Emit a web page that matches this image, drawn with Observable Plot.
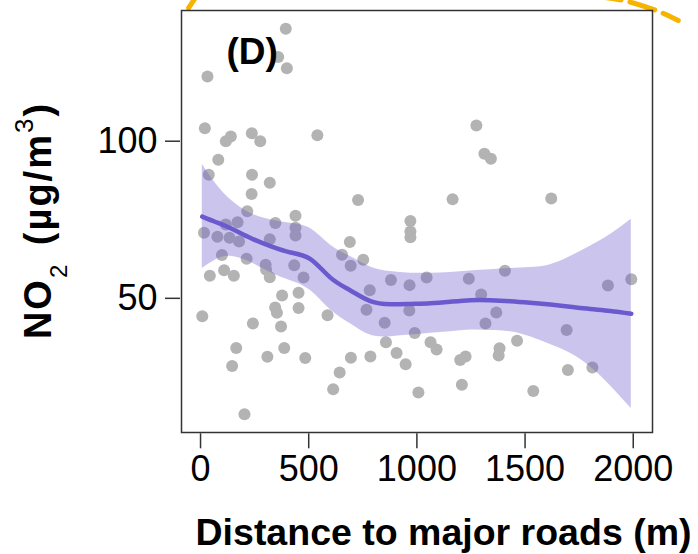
<!DOCTYPE html>
<html>
<head>
<meta charset="utf-8">
<script src="https://cdn.jsdelivr.net/npm/d3@7"></script>
<script src="https://cdn.jsdelivr.net/npm/@observablehq/plot@0.6"></script>
<style>
  html, body { margin: 0; padding: 0; background: white; }
</style>
</head>
<body>
<div id="chart"></div>
<script>
// ---- data ----
const distance = [394, 359, 399, 32, 20, 140, 117, 237, 276, 540,
  1275, 1312, 1342, 82, 38, 238, 320, 236, 728, 1165,
  1621, 216, 439, 970, 970, 970, 346, 171, 117, 16,
  439, 439, 78, 134, 178, 320, 690, 99, 213, 654,
  301, 303, 433, 694, 752, 43, 109, 154, 320, 476,
  880, 966, 1045, 1240, 1407, 1883, 1991, 782, 377, 453,
  1297, 8, 345, 353, 453, 767, 965, 1367, 587, 242,
  851, 1317, 372, 990, 1692, 165, 309, 387, 484, 857,
  906, 1063, 1091, 1463, 1382, 1378, 1200, 1225, 695, 785,
  948, 146, 643, 613, 1007, 1208, 1538, 1698, 1811, 203];
const no2 = [135.8, 126.8, 123.2, 120.6, 104.1, 101.5, 100.0, 102.5, 100.0, 101.9,
  105.0, 96.0, 94.4, 94.1, 89.3, 89.3, 86.8, 83.2, 81.3, 81.5,
  81.8, 77.7, 76.3, 74.6, 71.3, 69.4, 74.0, 74.2, 73.5, 70.9,
  72.5, 70.0, 69.6, 69.3, 68.1, 68.8, 67.9, 63.8, 62.6, 63.9,
  60.7, 59.1, 60.5, 60.4, 62.3, 57.2, 58.9, 57.2, 56.7, 56.6,
  55.8, 54.2, 56.6, 56.2, 58.8, 54.1, 56.1, 52.6, 50.9, 51.8,
  51.2, 44.3, 47.1, 45.4, 46.9, 46.4, 46.1, 45.5, 44.6, 42.0,
  42.2, 42.0, 41.0, 39.0, 39.9, 34.2, 31.4, 34.2, 31.0, 36.0,
  32.6, 36.0, 33.7, 36.5, 34.1, 31.8, 30.4, 31.5, 31.1, 31.5,
  29.0, 28.5, 26.4, 21.1, 20.0, 22.5, 20.5, 27.2, 28.0, 13.1];

// loess smooth with confidence band
const smoothX = [8, 69, 139, 231, 323, 416, 508, 600, 693, 785, 878, 970,
  1062, 1155, 1247, 1339, 1432, 1524, 1617, 1709, 1801, 1894, 1991];
const smoothFit = [76.0, 74.3, 72.3, 69.2, 66.6, 64.6, 62.5, 56.6, 52.5, 49.1, 48.1, 48.2,
  48.4, 48.9, 49.4, 49.4, 49.1, 48.6, 48.0, 47.3, 46.6, 46.0, 45.1];
const smoothUpper = [92.7, 86.6, 81.4, 77.1, 75.0, 73.9, 72.2, 67.0, 63.3, 60.0, 58.5, 58.0,
  58.0, 58.2, 58.7, 59.1, 59.5, 59.8, 60.7, 63.3, 66.6, 70.3, 75.2];
const smoothLower = [59.5, 62.2, 63.4, 61.5, 58.2, 55.6, 52.5, 46.4, 41.9, 38.3, 37.8, 38.3,
  38.9, 39.4, 39.9, 39.8, 39.4, 37.8, 35.3, 32.5, 28.2, 22.2, 14.9];

// decorative orange dashed highlight (partly visible at the top)
const arcLeftX = [-55, -18];
const arcLeftY = [142.4, 146.3];
const arcRightX = [1825, 1954, 2078, 2148, 2208];
const arcRightY = [146.1, 144.8, 142.3, 140.4, 138.4];

const xTicks = [0, 500, 1000, 1500, 2000];
const yTicks = [50, 100];
const panelLabel = "(D)";
const xTitle = "Distance to major roads (m)";
const yTitle = "NO2 (µg/m3)";

// ---- build tables ----
const points = distance.map((d, i) => ({x: d, y: no2[i]}));
const smooth = smoothX.map((d, i) => ({x: d, fit: smoothFit[i], lo: smoothLower[i], hi: smoothUpper[i]}));
const arcs = [
  ...arcLeftX.map((d, i) => ({x: d, y: arcLeftY[i], z: "L"})),
  ...arcRightX.map((d, i) => ({x: d, y: arcRightY[i], z: "R"}))
];

const purple = "#6a5acd";

const chart = Plot.plot({
  width: 698,
  height: 554,
  marginLeft: 181,
  marginRight: 46,
  marginTop: 10,
  marginBottom: 122,
  style: {fontFamily: "'Liberation Sans', Arial, sans-serif", fontSize: "36px", background: "white", overflow: "visible"},
  x: {domain: [-88, 2089]},
  y: {domain: [7.3, 141.6]},
  marks: [
    Plot.line(arcs, {x: "x", y: "y", z: "z", stroke: "#f6b400", strokeWidth: 5, strokeDasharray: "26,9", curve: "natural"}),
    Plot.dot(points, {x: "x", y: "y", r: 6, fill: "#b3b3b3", stroke: "none"}),
    Plot.areaY(smooth, {x: "x", y1: "lo", y2: "hi", fill: purple, fillOpacity: 0.35, curve: "natural"}),
    Plot.line(smooth, {x: "x", y: "fit", stroke: purple, strokeWidth: 4.5, curve: "natural"}),
    Plot.text([panelLabel], {text: d => d, frameAnchor: "top-left", dx: 45, dy: 27, lineAnchor: "top", textAnchor: "start", fontSize: 37, fontWeight: "bold", fill: "black"}),
    Plot.frame({stroke: "#333", strokeWidth: 1.5}),
    Plot.axisX(xTicks, {tickSize: 15, tickPadding: 7, dy: 1.3, fontSize: 36, label: null, stroke: "#333", strokeWidth: 1.5, tickFormat: d => String(d), fill: "black"}),
    Plot.axisY(yTicks, {tickSize: 15, tickPadding: 8, dx: -1, fontSize: 36, label: null, stroke: "#333", strokeWidth: 1.5, tickFormat: d => String(d), fill: "black"}),
    Plot.text([xTitle], {text: d => d, frameAnchor: "bottom", dx: 26.5, dy: 112, lineAnchor: "bottom", textAnchor: "middle", fontSize: 37.5, fontWeight: "bold", fill: "black"}),
    Plot.text([yTitle], {text: d => d, frameAnchor: "left", dx: -131, dy: -1, rotate: -90, lineAnchor: "bottom", textAnchor: "middle", fontSize: 38, fontWeight: "bold", fill: "black"})
  ]
});

// rich text for the y title: subscript 2 and superscript 3
d3.select(chart).selectAll("text").filter(function() { return this.textContent === yTitle; }).each(function() {
  const t = d3.select(this).style("letter-spacing", "2px");
  t.text(null);
  t.append("tspan").text("NO");
  t.append("tspan").attr("font-weight", "normal").attr("font-size", 24).attr("dy", 16).text("2");
  t.append("tspan").attr("dy", -16).attr("dx", 5).text(" (µg/m");
  t.append("tspan").attr("font-weight", "normal").attr("font-size", 26).attr("dy", -18).text("3");
  t.append("tspan").attr("dy", 18).text(")");
});

document.getElementById("chart").appendChild(chart);
</script>
</body>
</html>
